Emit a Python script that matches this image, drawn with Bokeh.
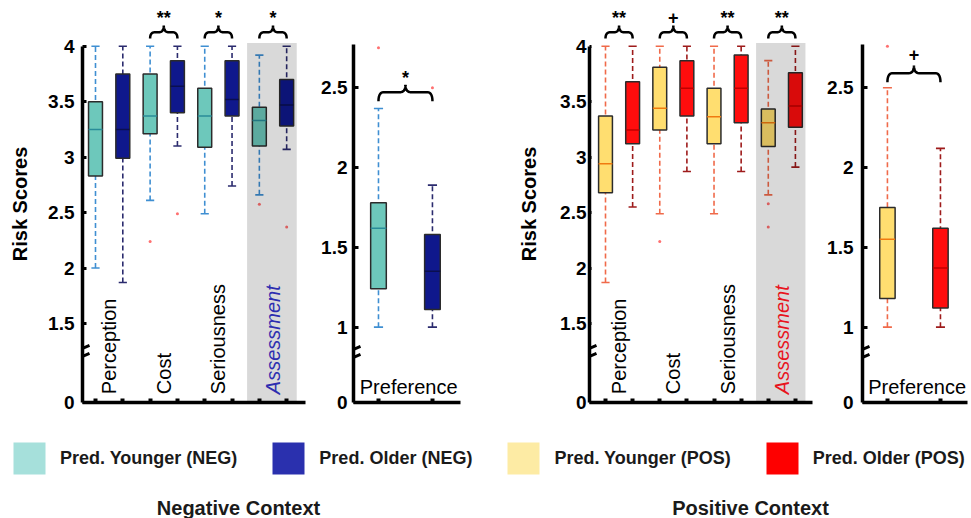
import numpy as np
from bokeh.plotting import figure
from bokeh.models import (Range1d, FixedTicker, Arrow, Legend, LegendItem, Label, ColumnDataSource,
                          CustomJSTickFormatter)
from bokeh.layouts import row, column
from bokeh.embed import file_html
from bokeh.resources import INLINE
from bokeh.core.properties import value

FONT = "Liberation Sans"

# ---------------- data ----------------
categories = ["Perception", "Cost", "Seriousness", "Assessment"]
pref_category = "Preference"
group_names = ["Pred. Younger (NEG)", "Pred. Older (NEG)", "Pred. Younger (POS)", "Pred. Older (POS)"]
context_titles = ["Negative Context", "Positive Context"]
y_title = "Risk Scores"

main_tick_values = [1.5, 2.0, 2.5, 3.0, 3.5, 4.0]
main_tick_labels = ["1.5", "2", "2.5", "3", "3.5", "4"]
pref_tick_values = [1.0, 1.5, 2.0, 2.5]
pref_tick_labels = ["1", "1.5", "2", "2.5"]
zero_label = "0"
MAIN_ZERO = 0.788   # where "0" sits on the broken main axis
PREF_ZERO = 0.528   # where "0" sits on the broken preference axis

# Negative context, main panel (per category)
neg_young_hi = [4.00, 4.00, 4.00, 3.92]
neg_young_q3 = [3.50, 3.75, 3.62, 3.45]
neg_young_med = [3.25, 3.37, 3.37, 3.33]
neg_young_q1 = [2.83, 3.21, 3.09, 3.10]
neg_young_lo = [2.00, 2.61, 2.49, 2.66]
neg_old_hi = [4.00, 4.00, 4.00, 4.00]
neg_old_q3 = [3.75, 3.87, 3.87, 3.70]
neg_old_med = [3.25, 3.64, 3.52, 3.47]
neg_old_q1 = [2.99, 3.40, 3.37, 3.28]
neg_old_lo = [1.87, 3.10, 2.74, 3.07]
neg_young_out_cat = [1, 3]
neg_young_out_val = [2.24, 2.575]
neg_old_out_cat = [1, 3]
neg_old_out_val = [2.49, 2.37]
neg_main_sig = ["", "**", "*", "*"]

# Negative context, preference
neg_pref_young = dict(lo=1.00, q1=1.24, med=1.62, q3=1.78, hi=2.37)
neg_pref_old = dict(lo=1.00, q1=1.11, med=1.35, q3=1.58, hi=1.89)
neg_pref_young_out = [2.75]
neg_pref_old_out = [2.50]
neg_pref_sig = "*"

# Positive context, main panel
pos_young_hi = [4.00, 4.00, 4.00, 3.87]
pos_young_q3 = [3.37, 3.81, 3.62, 3.435]
pos_young_med = [2.94, 3.44, 3.365, 3.31]
pos_young_q1 = [2.68, 3.245, 3.12, 3.095]
pos_young_lo = [1.87, 2.49, 2.49, 2.66]
pos_old_hi = [4.00, 4.00, 4.00, 4.00]
pos_old_q3 = [3.68, 3.87, 3.92, 3.76]
pos_old_med = [3.245, 3.62, 3.62, 3.46]
pos_old_q1 = [3.12, 3.37, 3.31, 3.27]
pos_old_lo = [2.55, 2.87, 2.87, 2.91]
pos_young_out_cat = [1, 3, 3]
pos_young_out_val = [2.24, 2.58, 2.37]
pos_old_out_cat = []
pos_old_out_val = []
pos_main_sig = ["**", "+", "**", "**"]

# Positive context, preference
pos_pref_young = dict(lo=1.00, q1=1.18, med=1.55, q3=1.75, hi=2.50)
pos_pref_old = dict(lo=1.00, q1=1.12, med=1.37, q3=1.62, hi=2.12)
pos_pref_young_out = [2.76]
pos_pref_old_out = []
pos_pref_sig = "+"

# ---------------- styles ----------------
NEG_Y = dict(fill="#6dc8bb", whisker="#3f8fd2", median="#2a8c99")
NEG_O = dict(fill="#0f188c", whisker="#2b2b6e", median="#0a0f50")
POS_Y = dict(fill="#ffde70", whisker="#f06a4a", median="#f07a10")
POS_O = dict(fill="#ff0d0d", whisker="#9e1b1b", median="#c00000")
legend_colors = ["#a6e0db", "#2a30ae", "#fdeba4", "#fe0000"]
assess_colors = ["#2d2db0", "#e8141e"]
FRAME_H = 397


def make_fig(width, bl, br, x0, x1, yz, y1, tvals, tlabels, axis_top, ylabel, tick_standoff, tick_in,
             label_standoff=19):
    p = figure(width=width, height=420, x_range=Range1d(x0, x1), y_range=Range1d(yz, y1),
               output_backend="svg", toolbar_location=None,
               min_border_left=bl, min_border_right=br, min_border_top=5, min_border_bottom=18)
    p.grid.visible = False
    p.outline_line_color = None
    p.background_fill_color = "white"
    p.border_fill_color = "white"
    ticks = [yz] + list(tvals)
    p.yaxis.ticker = FixedTicker(ticks=ticks)
    p.yaxis.major_label_overrides = {t: l for t, l in zip(ticks, [zero_label] + list(tlabels))}
    p.yaxis.bounds = (yz, axis_top)
    p.yaxis.axis_line_width = 3.5
    p.yaxis.major_tick_in = tick_in
    p.yaxis.major_tick_out = 0
    p.yaxis.major_tick_line_width = 3
    p.yaxis.minor_tick_line_color = None
    p.yaxis.major_label_standoff = tick_standoff
    p.yaxis.major_label_text_font = FONT
    p.yaxis.major_label_text_font_size = "19px"
    p.yaxis.major_label_text_font_style = "bold"
    p.yaxis.major_label_text_color = "black"
    if ylabel:
        p.yaxis.axis_label = ylabel
        p.yaxis.axis_label_text_font = FONT
        p.yaxis.axis_label_text_font_size = "20px"
        p.yaxis.axis_label_text_font_style = "bold"
        p.yaxis.axis_label_text_color = "black"
        p.yaxis.axis_label_standoff = label_standoff
    p.xaxis.axis_line_width = 3.5
    p.xaxis.major_tick_in = 4
    p.xaxis.major_tick_out = 0
    p.xaxis.major_tick_line_width = 4
    p.xaxis.minor_tick_line_color = None
    p.xaxis.formatter = CustomJSTickFormatter(code="return ''")
    p.xaxis.major_label_standoff = 0
    return p


def draw_boxes(p, xs, lo, q1, med, q3, hi, st, bw, cap):
    xs = np.asarray(xs, float)
    p.segment(x0=xs, y0=lo, x1=xs, y1=hi, line_color=st["whisker"], line_width=1.6, line_dash="5 3")
    p.segment(x0=xs - cap, y0=lo, x1=xs + cap, y1=lo, line_color=st["whisker"], line_width=1.6)
    p.segment(x0=xs - cap, y0=hi, x1=xs + cap, y1=hi, line_color=st["whisker"], line_width=1.6)
    p.vbar(x=xs, width=bw, bottom=q1, top=q3, fill_color=st["fill"], line_color="#2b2b2b", line_width=1.5)
    p.segment(x0=xs - bw / 2, y0=med, x1=xs + bw / 2, y1=med, line_color=st["median"], line_width=1.5)


def brace(p, x0, x1, y_end, y_bar, y_tip, r):
    xc = (x0 + x1) / 2
    t = np.linspace(0, 1, 14)

    def quad(a, c, b):
        return ((1 - t) ** 2 * a[0] + 2 * (1 - t) * t * c[0] + t ** 2 * b[0],
                (1 - t) ** 2 * a[1] + 2 * (1 - t) * t * c[1] + t ** 2 * b[1])
    parts = [quad((x0, y_end), (x0, y_bar), (x0 + r, y_bar)),
             quad((xc - r, y_bar), (xc, y_bar), (xc, y_tip)),
             quad((xc, y_tip), (xc, y_bar), (xc + r, y_bar)),
             quad((x1 - r, y_bar), (x1, y_bar), (x1, y_end))]
    xs = np.concatenate([a[0] for a in parts])
    ys = np.concatenate([a[1] for a in parts])
    p.line(xs, ys, line_color="black", line_width=2.5)


def break_mark(p, y, frame_w):
    xr, yr = p.x_range, p.y_range
    px_x = (xr.end - xr.start) / frame_w
    px_y = (yr.end - yr.start) / FRAME_H
    x = xr.start
    for dy in (-4, 4):
        p.add_layout(Arrow(end=None, start=None,
                           x_start=x - 7 * px_x, y_start=y + (dy - 3) * px_y,
                           x_end=x + 7 * px_x, y_end=y + (dy + 3) * px_y,
                           line_color="black", line_width=3))


def main_panel(width, bl, br, x0, x1, tick_standoff, tick_in, ylabel, label_standoff,
               young, old, st_y, st_o, yout, oout, sig, assess_color):
    p = make_fig(width, bl, br, x0, x1, MAIN_ZERO, 4.367, main_tick_values, main_tick_labels,
                 4.0, ylabel, tick_standoff, tick_in, label_standoff)
    n = len(categories)
    xy = [2 * i + 1 for i in range(n)]
    xo = [2 * i + 2 for i in range(n)]
    p.xaxis.ticker = FixedTicker(ticks=sorted(xy + xo))
    draw_boxes(p, xy, *young, st_y, 0.51, 0.15)
    draw_boxes(p, xo, *old, st_o, 0.51, 0.15)
    p.scatter([xy[c] for c in yout[0]], yout[1], size=3, color="#ff7070", line_color=None)
    p.scatter([xo[c] for c in oout[0]], oout[1], size=3, color="#ff7070", line_color=None)
    # shaded "Assessment" band
    p.quad(left=xy[3] - 0.45, right=xo[3] + 0.37, bottom=MAIN_ZERO, top=4.03,
           fill_color="black", fill_alpha=0.15, line_color=None)
    centers = [(a + b) / 2 for a, b in zip(xy, xo)]
    p.text(x=centers[:3], y=[MAIN_ZERO + 0.075] * 3, text=categories[:3], angle=np.pi / 2,
           text_font=value(FONT), text_font_size="20px", text_align="left",
           text_baseline="middle", text_color="black")
    p.text(x=centers[3:], y=[MAIN_ZERO + 0.075], text=categories[3:], angle=np.pi / 2,
           text_font=value(FONT), text_font_size="20px", text_font_style="italic",
           text_align="left", text_baseline="middle", text_color=assess_color)
    for i, s in enumerate(sig):
        if s:
            brace(p, xy[i], xo[i], 4.07, 4.126, 4.186, 0.18)
    keep = [i for i, s in enumerate(sig) if s]
    p.text(x=[centers[i] for i in keep], y=[4.258] * len(keep), text=[sig[i] for i in keep],
           text_font=value(FONT), text_font_size="18px", text_font_style="bold",
           text_align="center", text_baseline="middle", text_color="black")
    break_mark(p, 1.239, width - bl - br)
    return p


def pref_panel(width, bl, br, x0, x1, tick_standoff, sy, so, st_y, st_o, yout, oout, sig, br_y, star_y):
    p = make_fig(width, bl, br, x0, x1, PREF_ZERO, 3.015, pref_tick_values, pref_tick_labels,
                 2.77, None, tick_standoff, 5)
    p.xaxis.ticker = FixedTicker(ticks=[1, 2])
    draw_boxes(p, [1], [sy["lo"]], [sy["q1"]], [sy["med"]], [sy["q3"]], [sy["hi"]], st_y, 0.29, 0.085)
    draw_boxes(p, [2], [so["lo"]], [so["q1"]], [so["med"]], [so["q3"]], [so["hi"]], st_o, 0.29, 0.085)
    p.scatter([1] * len(yout), yout, size=3, color="#ff7070", line_color=None)
    p.scatter([2] * len(oout), oout, size=3, color="#ff7070", line_color=None)
    brace(p, 1, 2, br_y[0], br_y[1], br_y[2], 0.1)
    p.text(x=[1.5], y=[star_y], text=[sig], text_font=value(FONT), text_font_size="18px",
           text_font_style="bold", text_align="center", text_baseline="middle", text_color="black")
    p.text(x=[1.56], y=[PREF_ZERO + 0.094], text=[pref_category], text_font=value(FONT),
           text_font_size="20px", text_align="center", text_baseline="middle", text_color="black")
    break_mark(p, 0.835, width - bl - br)
    return p


f1 = main_panel(314, 82, 9, 0.524, 8.69, 8, 4, y_title, 14,
                (neg_young_lo, neg_young_q1, neg_young_med, neg_young_q3, neg_young_hi),
                (neg_old_lo, neg_old_q1, neg_old_med, neg_old_q3, neg_old_hi),
                NEG_Y, NEG_O, (neg_young_out_cat, neg_young_out_val), (neg_old_out_cat, neg_old_out_val),
                neg_main_sig, assess_colors[0])
f2 = pref_panel(191, 39, 45, 0.537, 2.52, 6, neg_pref_young, neg_pref_old, NEG_Y, NEG_O,
                neg_pref_young_out, neg_pref_old_out, neg_pref_sig, (2.415, 2.472, 2.518), 2.56)
f3 = main_panel(315, 84, 8, 0.41, 8.63, 3, 2, y_title, 17,
                (pos_young_lo, pos_young_q1, pos_young_med, pos_young_q3, pos_young_hi),
                (pos_old_lo, pos_old_q1, pos_old_med, pos_old_q3, pos_old_hi),
                POS_Y, POS_O, (pos_young_out_cat, pos_young_out_val), (pos_old_out_cat, pos_old_out_val),
                pos_main_sig, assess_colors[1])
f4 = pref_panel(151, 42, 4, 0.53, 2.51, 9, pos_pref_young, pos_pref_old, POS_Y, POS_O,
                pos_pref_young_out, pos_pref_old_out, pos_pref_sig, (2.534, 2.591, 2.639), 2.71)

# ---------------- legend strip ----------------
fb = figure(width=971, height=98, x_range=Range1d(0, 1), y_range=Range1d(0, 1),
            output_backend="svg", toolbar_location=None, x_axis_type=None, y_axis_type=None,
            min_border=0)
fb.outline_line_color = None
fb.grid.visible = False
hidden = ColumnDataSource(data=dict(x=[-10.0], y=[-10.0]))
items = []
for name, col in zip(group_names, legend_colors):
    r = fb.rect(x="x", y="y", width=0.1, height=0.1, source=hidden, fill_color=col, line_color=None)
    items.append(LegendItem(label=name, renderers=[r]))
# legend area glyphs are inset by 10% on each side: a 40px glyph box draws a 32px swatch
leg = Legend(items=items, orientation="horizontal", location=(9, 40), glyph_width=40, glyph_height=40,
             label_standoff=11, spacing=31, padding=0, margin=0, border_line_color=None,
             background_fill_alpha=0, label_text_font=FONT, label_text_font_size="18px",
             label_text_font_style="bold", label_text_color="#1a1a1a")
fb.add_layout(leg)
for txt, cx in zip(context_titles, [238, 750]):
    fb.add_layout(Label(x=cx, y=11, x_units="screen", y_units="screen", text=txt,
                        text_align="center", text_baseline="middle", text_font=FONT,
                        text_font_size="20px", text_font_style="bold", text_color="#1a1a1a"))

layout = column(row(f1, f2, f3, f4, spacing=0), fb, spacing=0)
open("out.html", "w").write(file_html(layout, INLINE))
